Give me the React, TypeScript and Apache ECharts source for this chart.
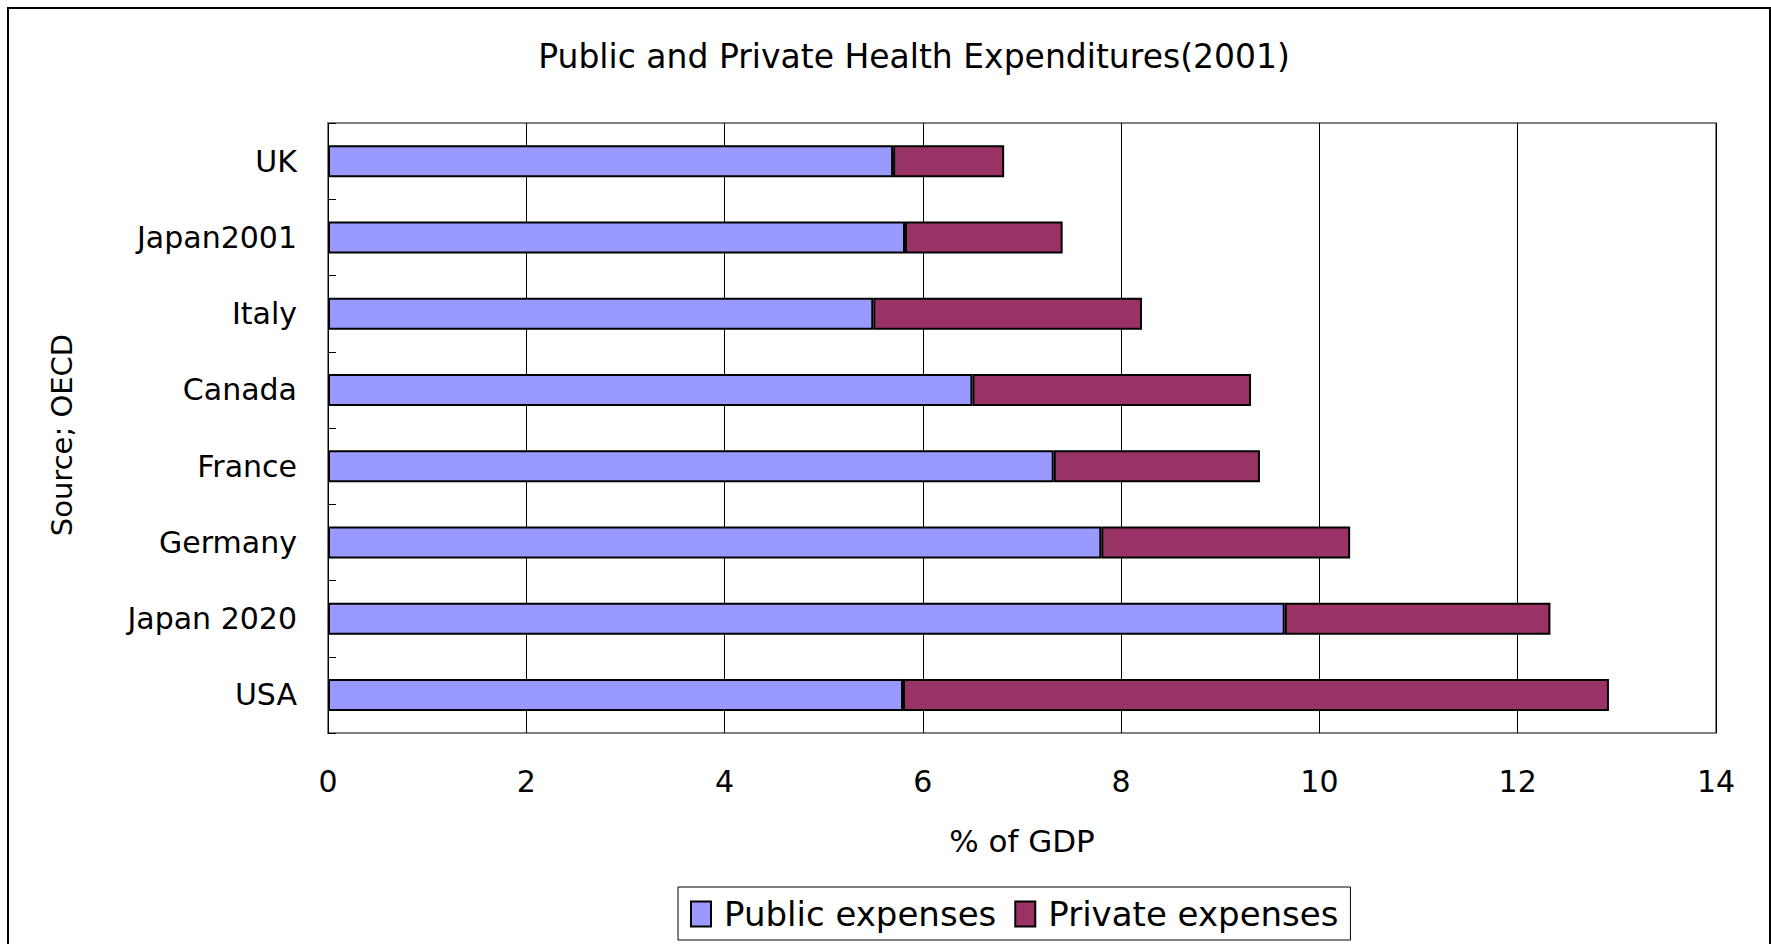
import React, { useEffect, useRef } from "react";
import * as echarts from "echarts";

const categories = ["UK", "Japan2001", "Italy", "Canada", "France", "Germany", "Japan 2020", "USA"];
const publicExpenses = [5.7, 5.82, 5.5, 6.5, 7.32, 7.8, 9.65, 5.8];
const privateExpenses = [1.12, 1.59, 2.71, 2.81, 2.08, 2.51, 2.68, 7.12];
const seriesNames = ["Public expenses", "Private expenses"];
const colors = ["#9999FF", "#993366"];

export default function App() {
  const ref = useRef<HTMLDivElement>(null);
  useEffect(() => {
    if (!ref.current) return;
    const chart = echarts.init(ref.current, null, { renderer: "svg" });
    chart.setOption({
      animation: false,
      backgroundColor: "#ffffff",
      title: {
        text: "Public and Private Health Expenditures(2001)",
        left: 909,
        textAlign: "center",
        top: 35,
        textStyle: { fontFamily: "DejaVu Sans", fontSize: 33, fontWeight: "normal", color: "#000" },
      },
      legend: {
        left: 678,
        top: 887,
        itemWidth: 20,
        itemHeight: 25,
        itemGap: 18,
        borderColor: "#000",
        borderWidth: 1,
        padding: [10, 12, 9, 12],
        icon: "rect",
        textStyle: { fontFamily: "DejaVu Sans", fontSize: 34, color: "#000", padding: [0, 0, 0, 8] },
        data: seriesNames,
      },
      graphic: [
        {
          type: "rect",
          shape: { x: 8, y: 8, width: 1762, height: 960 },
          style: { fill: "none", stroke: "#000", lineWidth: 2 },
          silent: true,
        },
        {
          type: "text",
          x: 62,
          y: 435,
          rotation: Math.PI / 2,
          style: {
            text: "Source; OECD",
            fontFamily: "DejaVu Sans",
            fontSize: 29,
            fill: "#000",
            align: "center",
            verticalAlign: "middle",
          },
        },
      ],
      grid: {
        left: 328,
        right: 55,
        top: 123,
        bottom: 211,
        show: true,
        borderColor: "#808080",
        borderWidth: 2,
        backgroundColor: "#fff",
      },
      xAxis: {
        type: "value",
        min: 0,
        max: 14,
        interval: 2,
        name: "% of GDP",
        nameLocation: "middle",
        nameGap: 92,
        nameTextStyle: { fontFamily: "DejaVu Sans", fontSize: 31, color: "#000" },
        axisLine: { show: false },
        axisTick: { show: false },
        axisLabel: { fontFamily: "DejaVu Sans", fontSize: 30, color: "#000", margin: 33 },
        splitLine: { show: true, lineStyle: { color: "#000", width: 1 } },
      },
      yAxis: {
        type: "category",
        data: categories,
        inverse: true,
        axisLine: { show: false },
        axisTick: { show: true, inside: true, length: 8, lineStyle: { color: "#000", width: 1 } },
        axisLabel: { fontFamily: "DejaVu Sans", fontSize: 30, color: "#000", margin: 31 },
        splitLine: { show: false },
      },
      series: [
        {
          name: seriesNames[0],
          type: "bar",
          stack: "total",
          data: publicExpenses,
          barWidth: 32,
          itemStyle: { color: colors[0], borderColor: "#000", borderWidth: 2 },
        },
        {
          name: seriesNames[1],
          type: "bar",
          stack: "total",
          data: privateExpenses,
          barWidth: 32,
          itemStyle: { color: colors[1], borderColor: "#000", borderWidth: 2 },
        },
      ],
    });
    return () => chart.dispose();
  }, []);
  return (
    <div
      ref={ref}
      style={{ position: "absolute", left: 0, top: 0, width: 1771, height: 944 }}
    />
  );
}
